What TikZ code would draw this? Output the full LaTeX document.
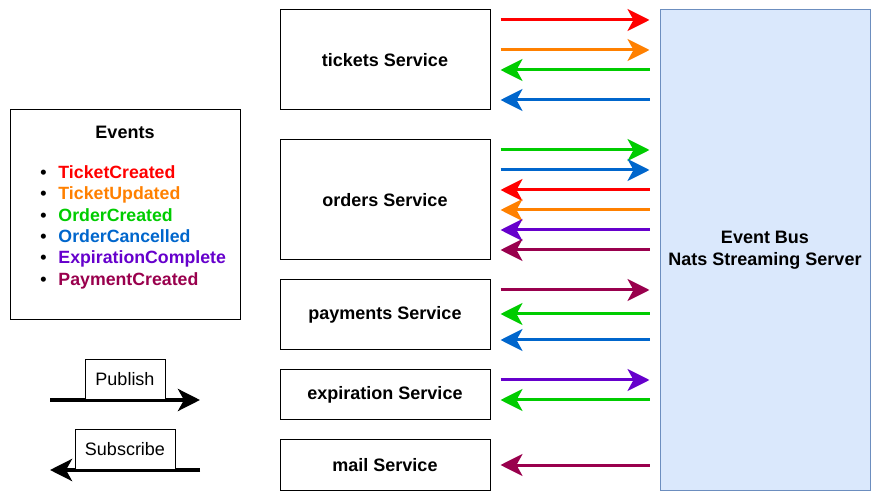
\documentclass[tikz,border=0pt]{standalone}
\usepackage{fontspec}
\setmainfont{Liberation Sans}
\usetikzlibrary{arrows.meta,calc}
\definecolor{cRed}{HTML}{FF0000}
\definecolor{cOrange}{HTML}{FF8000}
\definecolor{cGreen}{HTML}{00CC00}
\definecolor{cBlue}{HTML}{0066CC}
\definecolor{cPurple}{HTML}{6600CC}
\definecolor{cMaroon}{HTML}{99004D}
\definecolor{busFill}{HTML}{DAE8FC}
\definecolor{busDraw}{HTML}{6C8EBF}
\newcommand\txtfont{\fontsize{13.5}{16}\selectfont}
\tikzset{
  svc/.style={draw=black, line width=0.75pt, minimum width=157.5pt, inner sep=0pt, font=\bfseries\txtfont},
  evarr/.style={line width=2.25pt, -{Stealth[length=16.5pt, width=16.5pt, inset=4.5pt]}},
  legarr/.style={line width=3pt, -{Stealth[length=16.5pt, width=16.5pt, inset=4.5pt]}},
  legbox/.style={draw=black, fill=white, line width=0.75pt, inner sep=0pt, font=\txtfont},
}
\newcommand\evarrow[4]{% #1 service node, #2 y, #3 colour, #4 pub/sub
  \ifx#4p
    \draw[evarr, #3] ($(#1.east |- 0,#2)+(10,0)$) -- ($(bus.west |- 0,#2)+(-10,0)$);
  \else
    \draw[evarr, #3] ($(bus.west |- 0,#2)+(-10,0)$) -- ($(#1.east |- 0,#2)+(10,0)$);
  \fi}
\begin{document}
\begin{tikzpicture}[x=0.75pt, y=-0.75pt]
\useasboundingbox (0,0) rectangle (886,502);
% services
\node[svc, minimum height=75pt] (tickets) at (385,60) {tickets Service};
\node[svc, minimum height=90pt] (orders) at (385,200) {orders Service};
\node[svc, minimum height=52.5pt] (payments) at (385,315) {payments Service};
\node[svc, minimum height=37.5pt] (expiration) at (385,395) {expiration Service};
\node[svc, minimum height=37.5pt] (mail) at (385,465) {mail Service};
% bus
\node[draw=busDraw, fill=busFill, line width=0.75pt, minimum width=157.5pt, minimum height=360pt, inner sep=0pt, align=center, font=\bfseries\fontsize{13.5}{16.5}\selectfont] (bus) at (765,250) {Event Bus\\Nats Streaming Server};
% events box
\node[draw=black, line width=0.75pt, minimum width=172.5pt, minimum height=157.5pt, inner sep=0pt] (events) at (125,215) {};
\node[font=\bfseries\txtfont] (evtitle) at (125,132) {Events};
\node[anchor=north west, inner sep=0pt, align=left, font=\bfseries\fontsize{13.3}{16.1}\selectfont] (evlist) at (40,165) {%
\textcolor{black}{\textbullet}\hspace{9pt}\textcolor{cRed}{TicketCreated}\\
\textcolor{black}{\textbullet}\hspace{9pt}\textcolor{cOrange}{TicketUpdated}\\
\textcolor{black}{\textbullet}\hspace{9pt}\textcolor{cGreen}{OrderCreated}\\
\textcolor{black}{\textbullet}\hspace{9pt}\textcolor{cBlue}{OrderCancelled}\\
\textcolor{black}{\textbullet}\hspace{9pt}\textcolor{cPurple}{ExpirationComplete}\\
\textcolor{black}{\textbullet}\hspace{9pt}\textcolor{cMaroon}{PaymentCreated}};
% arrows
\evarrow{tickets}{20}{cRed}{p}
\evarrow{tickets}{50}{cOrange}{p}
\evarrow{tickets}{70}{cGreen}{s}
\evarrow{tickets}{100}{cBlue}{s}
\evarrow{orders}{150}{cGreen}{p}
\evarrow{orders}{170}{cBlue}{p}
\evarrow{orders}{190}{cRed}{s}
\evarrow{orders}{210}{cOrange}{s}
\evarrow{orders}{230}{cPurple}{s}
\evarrow{orders}{250}{cMaroon}{s}
\evarrow{payments}{290}{cMaroon}{p}
\evarrow{payments}{314}{cGreen}{s}
\evarrow{payments}{340}{cBlue}{s}
\evarrow{expiration}{380}{cPurple}{p}
\evarrow{expiration}{400}{cGreen}{s}
\evarrow{mail}{465}{cMaroon}{s}
% legend
\coordinate (pubA) at (50,400);
\coordinate (pubB) at (200,400);
\draw[legarr] (pubA) -- (pubB);
\node[legbox, minimum width=60pt, minimum height=30pt, anchor=south] (publish) at (125,400) {Publish};
\coordinate (subA) at (200,470);
\coordinate (subB) at (50,470);
\draw[legarr] (subA) -- (subB);
\node[legbox, minimum width=75pt, minimum height=30pt, anchor=south] (subscribe) at (125,470) {Subscribe};
\end{tikzpicture}
\end{document}
